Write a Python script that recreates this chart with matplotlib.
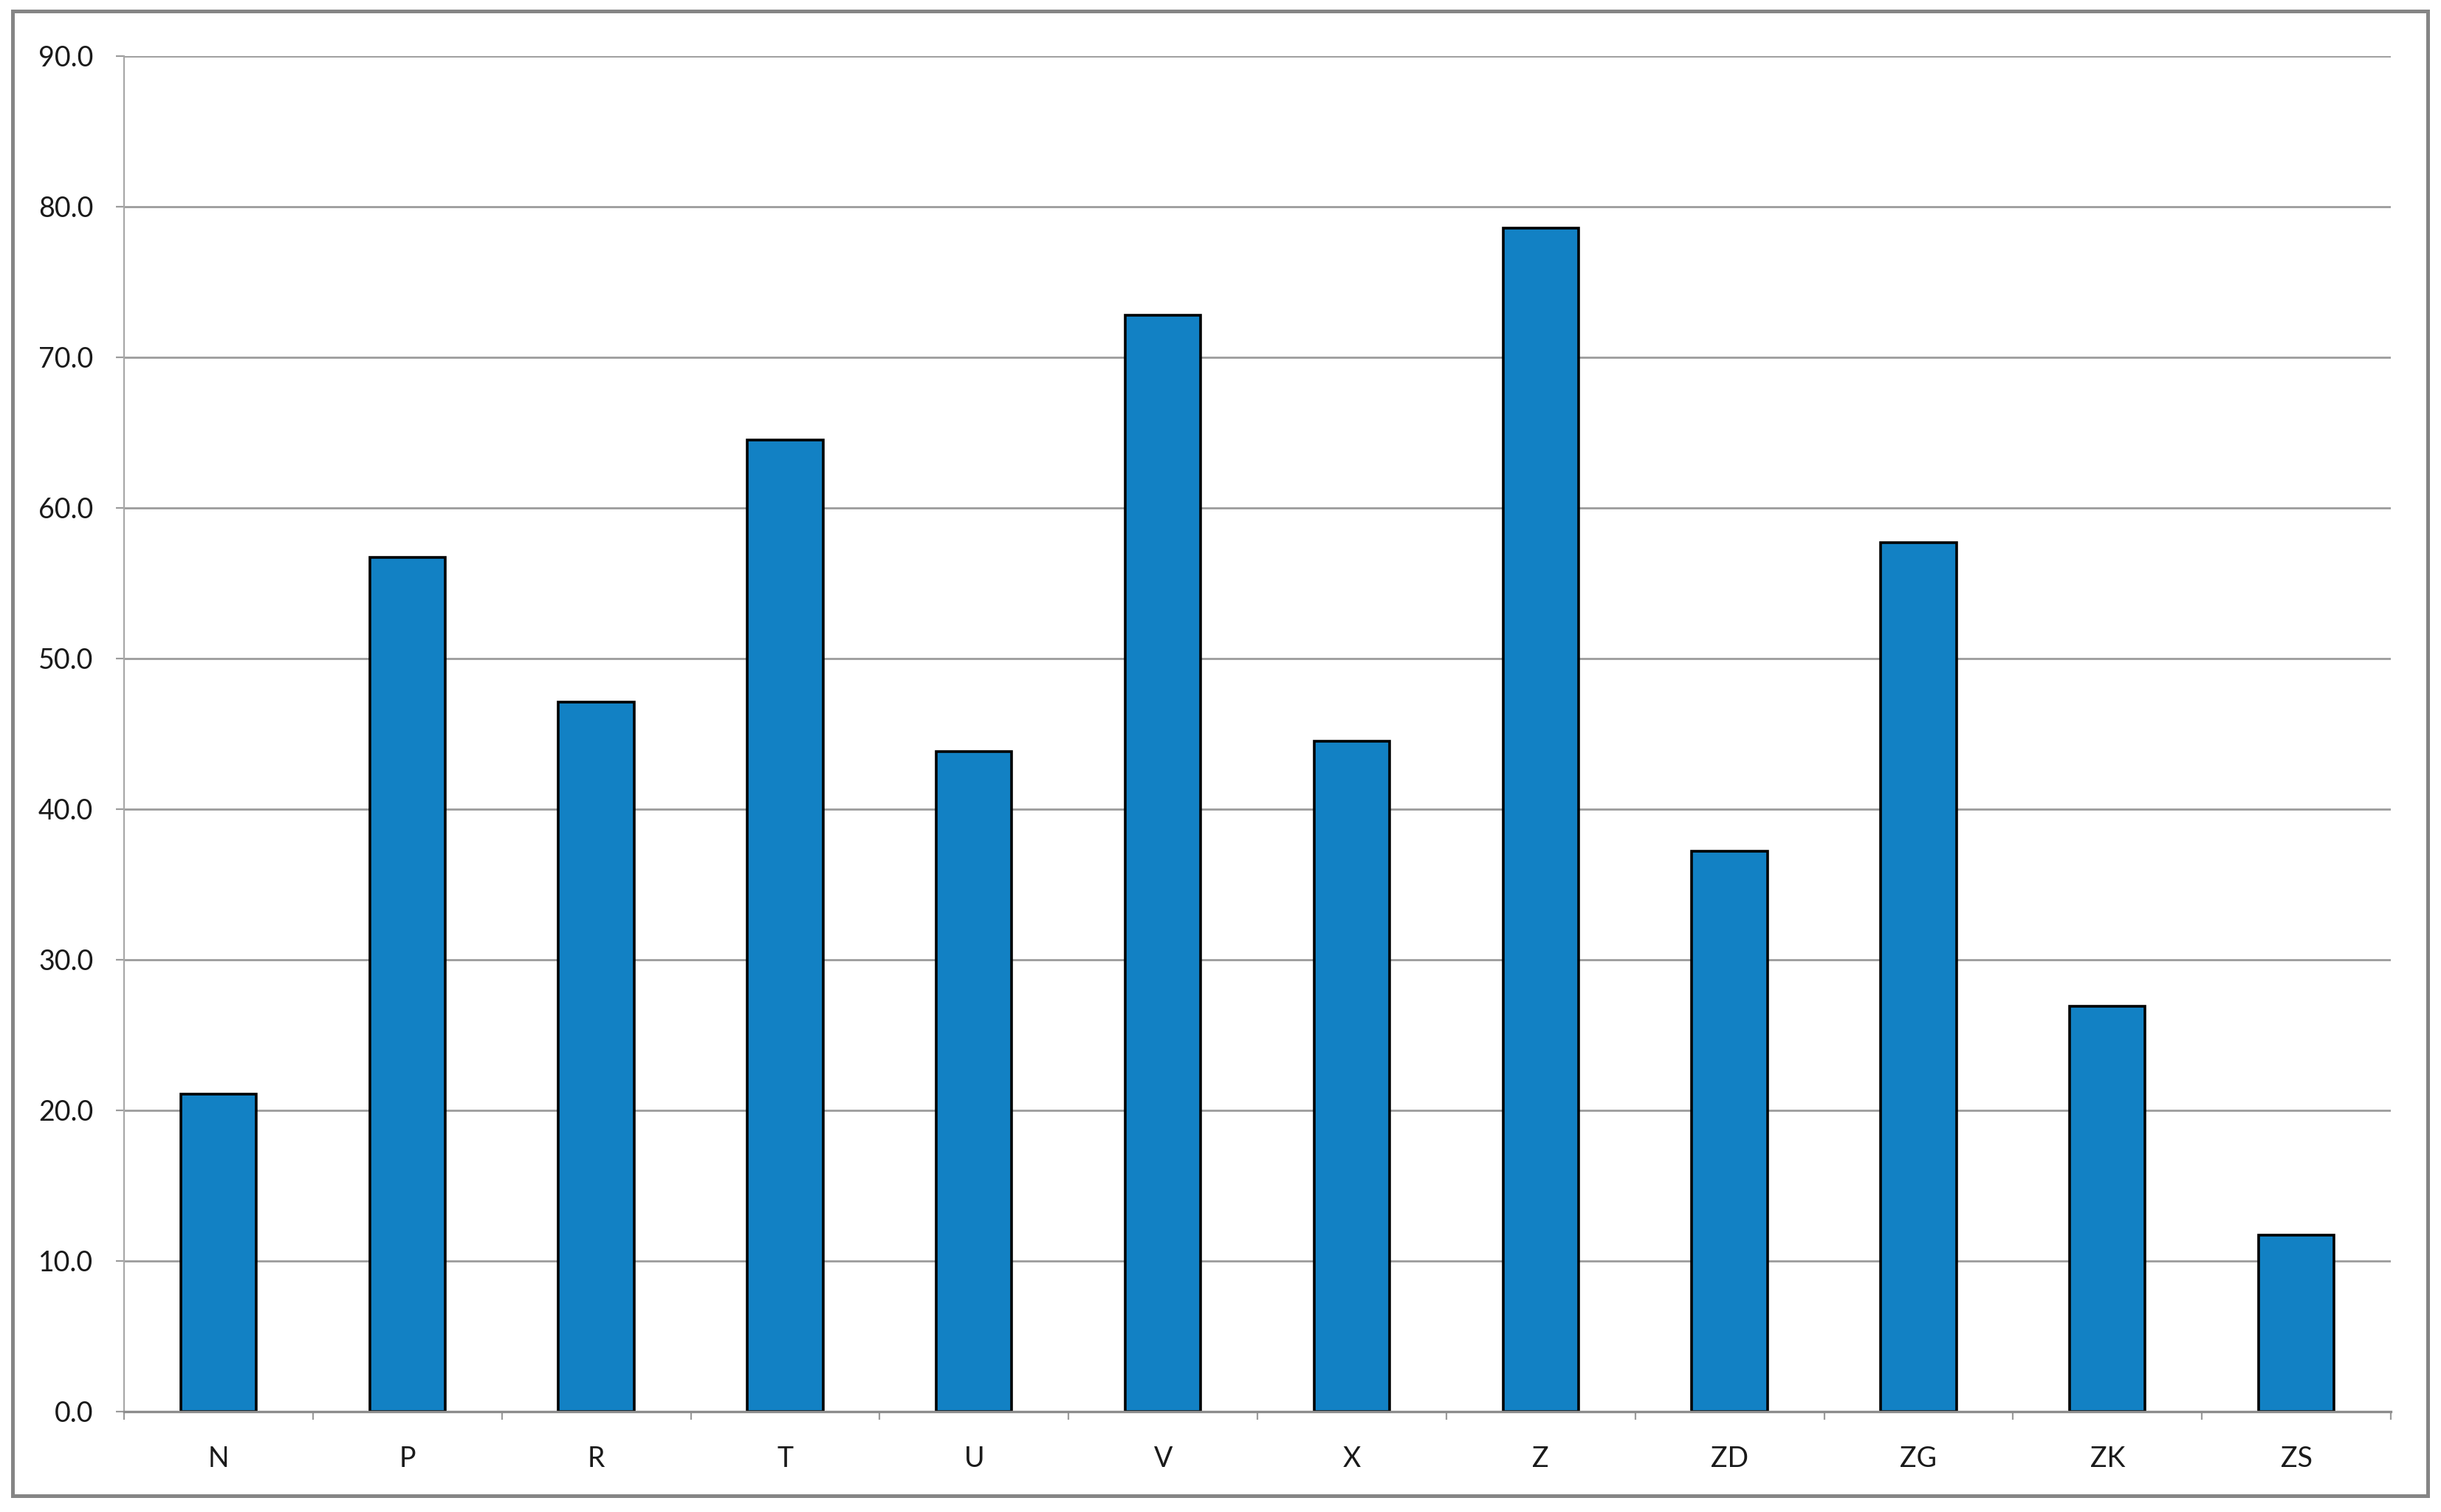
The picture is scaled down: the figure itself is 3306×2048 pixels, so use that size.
import matplotlib
matplotlib.use("Agg")
import matplotlib.pyplot as plt
from matplotlib.patches import Rectangle
import numpy as np

categories = ["N", "P", "R", "T", "U", "V", "X", "Z", "ZD", "ZG", "ZK", "ZS"]
values = [21.1, 56.7, 47.1, 64.5, 43.8, 72.8, 44.5, 78.6, 37.2, 57.7, 26.9, 11.7]
yticks = [0, 10, 20, 30, 40, 50, 60, 70, 80, 90]

plt.rcParams['font.family'] = ['Lato', 'DejaVu Sans']

W, H = 3306, 2048
dpi = 100
fig = plt.figure(figsize=(W / dpi, H / dpi), dpi=dpi)
fig.patch.set_facecolor("white")

# outer chart border
fig.patches.append(Rectangle((17 / W, 1 - 2026 / H), (3288 - 17) / W, (2026 - 15) / H,
                             transform=fig.transFigure, fill=False,
                             edgecolor="#858585", linewidth=3.6, zorder=0))

ax = fig.add_axes([168 / W, 1 - 1912 / H, (3238 - 168) / W, (1912 - 76) / H])
x = np.arange(len(categories))
ax.bar(x, values, width=0.40, color="#1281C4", edgecolor="black", linewidth=2.6, zorder=3)

ax.set_xlim(-0.5, len(categories) - 0.5)
ax.set_ylim(0, 90)
ax.set_yticks(yticks)
ax.set_yticklabels([f"{v:.1f}" for v in yticks])
ax.yaxis.grid(True, color="#9c9c9c", linewidth=2.0, zorder=0)
ax.set_axisbelow(True)

ax.set_xticks(x)
ax.set_xticklabels(categories)
ax.set_xticks(np.arange(-0.5, len(categories)), minor=True)
ax.tick_params(axis="x", which="major", length=0, pad=33, labelsize=27, labelcolor="#1a1a1a")
ax.tick_params(axis="x", which="minor", length=8, width=1.6, color="#9c9c9c", direction="out")
ax.tick_params(axis="y", length=8, width=1.6, color="#9c9c9c", pad=22, labelsize=27, labelcolor="#1a1a1a")

for s in ["top", "right"]:
    ax.spines[s].set_visible(False)
ax.spines["left"].set_color("#a8a8a8")
ax.spines["left"].set_linewidth(1.6)
ax.spines["bottom"].set_color("#8c8c8c")
ax.spines["bottom"].set_linewidth(2.4)
ax.spines["bottom"].set_zorder(4)

fig.savefig("out.png", dpi=dpi, facecolor="white")
